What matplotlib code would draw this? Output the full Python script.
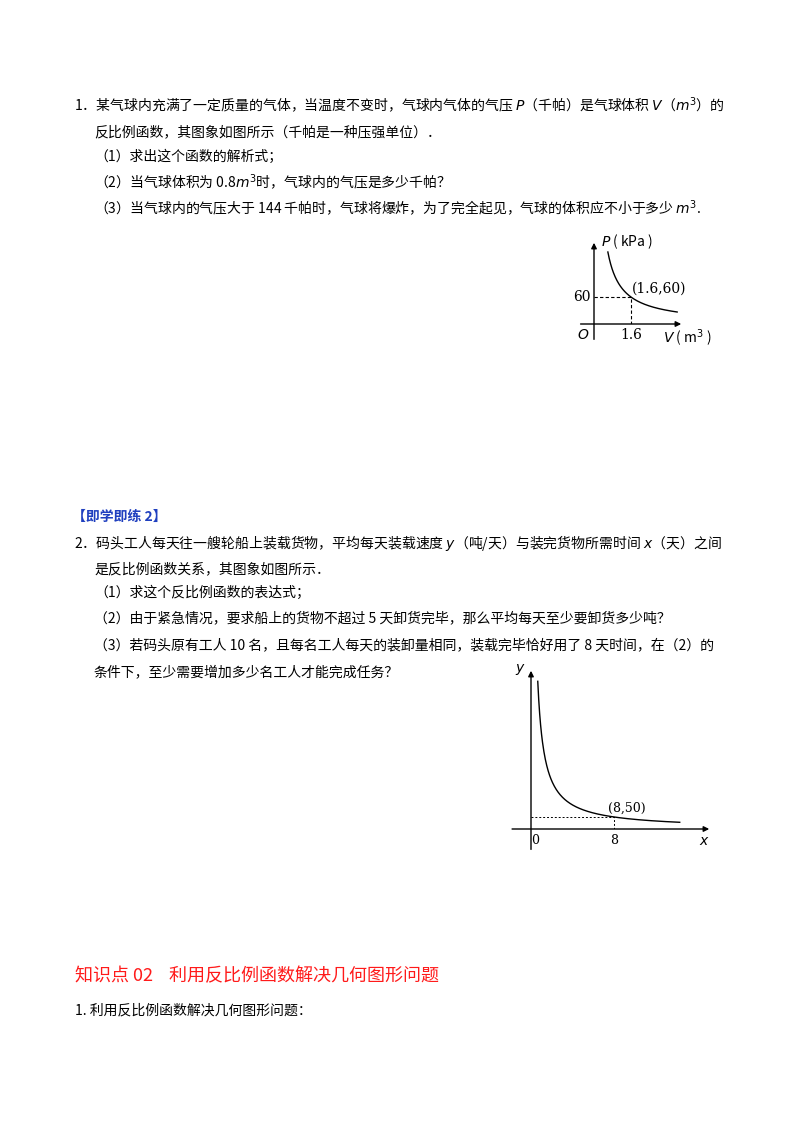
import numpy as np
import matplotlib.pyplot as plt

plt.rcParams['font.family'] = ['Noto Sans CJK SC', 'DejaVu Sans']

W, H = 800, 1132

# data
k1 = 96           # P = k1 / V, passes (1.6, 60)
pt1 = (1.6, 60)
k2 = 400          # y = k2 / x, passes (8, 50)
pt2 = (8, 50)

q1_lines = [
    (74, 105, "1．某气球内充满了一定质量的气体，当温度不变时，气球内气体的气压 $P$（千帕）是气球体积 $V$（$m^3$）的"),
    (94, 132, "反比例函数，其图象如图所示（千帕是一种压强单位）．"),
    (94, 157, "（1）求出这个函数的解析式；"),
    (94, 182, "（2）当气球体积为 0.8$m^3$时，气球内的气压是多少千帕？"),
    (94, 208, "（3）当气球内的气压大于 144 千帕时，气球将爆炸，为了完全起见，气球的体积应不小于多少 $m^3$."),
]
q2_lines = [
    (74, 543, "2．码头工人每天往一艘轮船上装载货物，平均每天装载速度 $y$（吨/天）与装完货物所需时间 $x$（天）之间"),
    (94, 569, "是反比例函数关系，其图象如图所示．"),
    (94, 593, "（1）求这个反比例函数的表达式；"),
    (94, 618, "（2）由于紧急情况，要求船上的货物不超过 5 天卸货完毕，那么平均每天至少要卸货多少吨？"),
    (94, 645, "（3）若码头原有工人 10 名，且每名工人每天的装卸量相同，装载完毕恰好用了 8 天时间，在（2）的"),
    (94, 672, "条件下，至少需要增加多少名工人才能完成任务？"),
]

fig = plt.figure(figsize=(8, 11.32), dpi=100)
fig.patch.set_facecolor('white')

def ftext(x, y, s, **kw):
    fig.text(x / W, 1 - y / H, s, va='center', ha='left', **kw)

for x, y, s in q1_lines + q2_lines:
    ftext(x, y, s, fontsize=10, color='black')

ftext(72, 517, "【即学即练 2】", fontsize=10, color='#1f3fbf', fontweight='bold')
ftext(75, 976, "知识点 02    利用反比例函数解决几何图形问题", fontsize=13, color='#ff1a1a')
ftext(75, 1010, "1. 利用反比例函数解决几何图形问题：", fontsize=10, color='black')

def inset(x0, x1, ytop, y0, ext):
    ax = fig.add_axes([x0 / W, 1 - y0 / H, (x1 - x0) / W, (y0 - ytop) / H])
    ax.axis('off')
    ax.annotate('', xy=(1, 0), xytext=(-ext, 0), xycoords='axes fraction',
                arrowprops=dict(arrowstyle='-|>', color='black', lw=1.0, mutation_scale=8))
    ax.annotate('', xy=(0, 1), xytext=(0, -ext * 1.2), xycoords='axes fraction',
                arrowprops=dict(arrowstyle='-|>', color='black', lw=1.0, mutation_scale=8))
    return ax

# graph 1
ax1 = inset(594, 684, 240, 324, 0.18)
ax1.set_xlim(0, 90 / 23.1)
ax1.set_ylim(0, 84 / 0.45)
v = np.linspace(0.6, 3.6, 200)
ax1.plot(v, k1 / v, color='black', lw=1)
ax1.plot([0, pt1[0], pt1[0]], [pt1[1], pt1[1], 0], 'k--', lw=0.8, dashes=(3, 2))
ax1.text(-0.15, pt1[1], '60', ha='right', va='center', fontsize=10, family='DejaVu Serif')
ax1.text(pt1[0], -8, '1.6', ha='center', va='top', fontsize=10, family='DejaVu Serif')
ax1.text(-0.2, -8, '$O$', ha='right', va='top', fontsize=10)
ax1.text(pt1[0] + 0.05, pt1[1] + 2, '(1.6,60)', ha='left', va='bottom', fontsize=10, family='DejaVu Serif')
ax1.text(0.3, 183, '$P$ ( kPa )', ha='left', va='center', fontsize=10)
ax1.text(3.0, -8, '$V$ ( m$^3$ )', ha='left', va='top', fontsize=10)

# graph 2
ax2 = inset(531, 712, 668, 829, 0.12)
ax2.set_xlim(0, 181 / 10.4)
ax2.set_ylim(0, 161 / 0.24)
x = np.linspace(0.65, 14.3, 300)
ax2.plot(x, k2 / x, color='black', lw=1)
ax2.plot([0, pt2[0], pt2[0]], [pt2[1], pt2[1], 0], 'k--', lw=0.7, dashes=(2, 2))
ax2.text(pt2[0] - 0.6, pt2[1] + 8, '(8,50)', ha='left', va='bottom', fontsize=9, family='DejaVu Serif')
ax2.text(pt2[0], -20, '8', ha='center', va='top', fontsize=9, family='DejaVu Serif')
ax2.text(0.4, -20, '0', ha='center', va='top', fontsize=9, family='DejaVu Serif')
ax2.text(-0.5, 665, '$y$', ha='right', va='center', fontsize=10)
ax2.text(16.7, -20, '$x$', ha='center', va='top', fontsize=10)

plt.savefig("out.png", dpi=100)
